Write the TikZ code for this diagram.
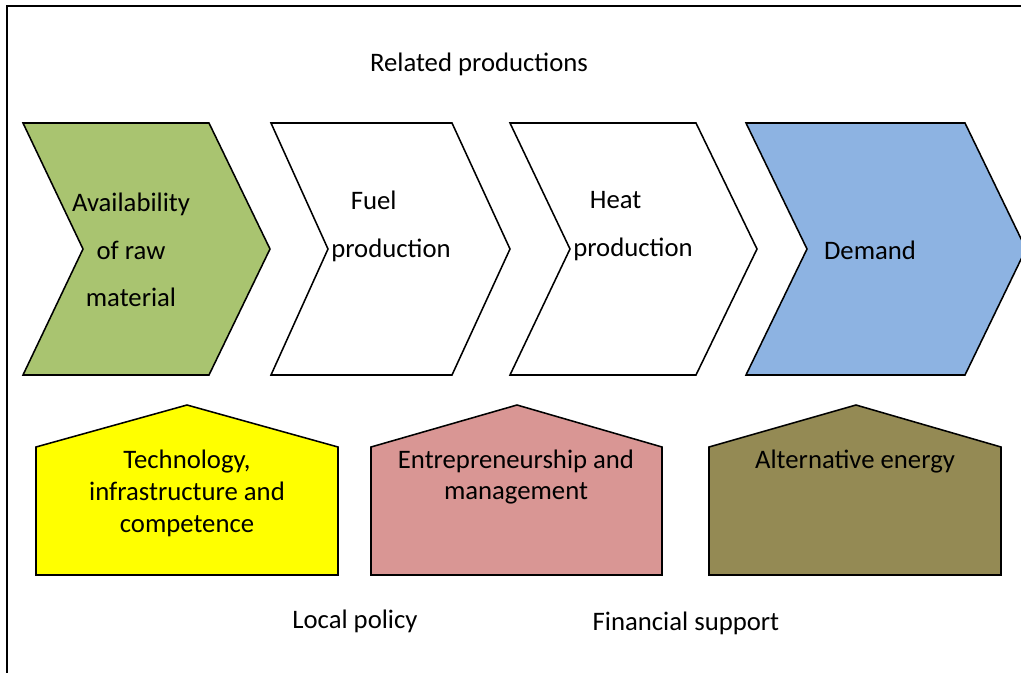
\documentclass[tikz,border=0pt]{standalone}
\usepackage{fontspec}
\setmainfont{Carlito}
\usepackage{xcolor}
\definecolor{rawgreen}{HTML}{A9C470}
\definecolor{demandblue}{HTML}{8DB3E2}
\definecolor{techyellow}{HTML}{FFFF00}
\definecolor{entrepink}{HTML}{D99694}
\definecolor{altolive}{HTML}{948A54}

\begin{document}
\begin{tikzpicture}[x=0.025cm, y=-0.025cm,
  chev/.style={draw, line width=1.1pt, line join=miter, fill=#1},
  house/.style={draw, line width=1.1pt, line join=miter, fill=#1},
  lbl/.style={align=center, inner sep=0pt, font=\fontsize{19}{34}\selectfont},
  hlbl/.style={align=center, inner sep=0pt, font=\fontsize{19}{22.7}\selectfont}
]
  \useasboundingbox (0,0) rectangle (1021,672);
  \clip (0,0) rectangle (1021,672);
  % outer frame
  \draw[line width=1.3pt] (7,6) rectangle (1040,690);

  % value chain
  \path[chev=rawgreen] (23,123) -- (209,123) -- (270,249) -- (209,375) -- (23,375) -- (83,249) -- cycle;
  \path[chev=white] (271,123) -- (452,123) -- (510,249) -- (452,375) -- (271,375) -- (328,249) -- cycle;
  \path[chev=white] (510,123) -- (696,123) -- (757,249) -- (696,375) -- (510,375) -- (570,249) -- cycle;
  \path[chev=demandblue] (746,123) -- (965,123) -- (1026,249) -- (965,375) -- (746,375) -- (807,249) -- cycle;

  \node[lbl] (related) at (479,64) {Related productions};
  \node[lbl] (raw) at (131,250) {Availability\\of raw\\material};
  \node[lbl] (fuel) at (391,226) {Fuel\hspace*{1.3em}\\production};
  \node[lbl] (heat) at (633,226) {Heat\hspace*{1.3em}\\production};
  \node[lbl] (demand) at (870,250) {Demand};

  % supporting factors
  \path[house=techyellow] (36,447) -- (187,405) -- (338,447) -- (338,575) -- (36,575) -- cycle;
  \path[house=entrepink] (371,447) -- (517,405) -- (662,447) -- (662,575) -- (371,575) -- cycle;
  \path[house=altolive] (709,447) -- (856,405) -- (1001,447) -- (1001,575) -- (709,575) -- cycle;

  \node[hlbl] (tech) at (187,493) {Technology,\\infrastructure and\\competence};
  \node[hlbl] (entre) at (516,477) {Entrepreneurship and\\management};
  \node[hlbl] (alt) at (855,462) {Alternative energy};

  \node[lbl] (policy) at (355,621) {Local policy};
  \node[lbl] (finance) at (686,623) {Financial support};
\end{tikzpicture}
\end{document}
